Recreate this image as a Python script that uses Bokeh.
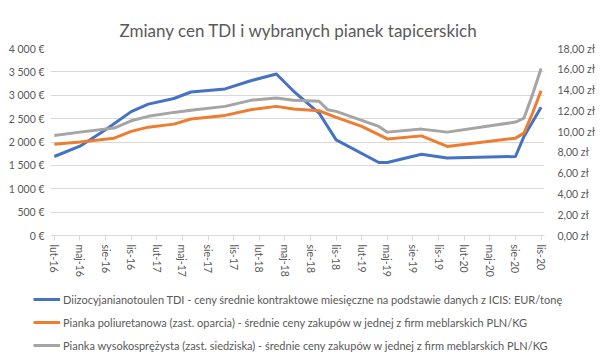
from bokeh.plotting import figure
from bokeh.layouts import column
from bokeh.models import Range1d, LinearAxis, FixedTicker, Legend, LegendItem
from bokeh.embed import file_html
from bokeh.resources import INLINE

# month index: 0 = luty 2016
months_tdi = [0, 3, 6, 9, 11, 14, 16, 20, 23, 26, 28, 31, 33, 38, 39, 43, 46, 54, 55, 57]
tdi_eur = [1690, 1910, 2260, 2650, 2810, 2930, 3070, 3135, 3310, 3455, 3090, 2620, 2046,
           1561, 1561, 1739, 1660, 1690, 2119, 2742]

months_pu = [0, 3, 7, 9, 11, 14, 16, 20, 23, 26, 28, 31, 33, 36, 39, 43, 46, 54, 55, 56, 57]
pu_pln = [8.79, 9.00, 9.37, 10.02, 10.43, 10.72, 11.21, 11.56, 12.11, 12.43, 12.17, 12.01,
          11.37, 10.50, 9.30, 9.59, 8.57, 9.37, 9.85, 11.79, 13.94]

months_hr = [0, 3, 7, 9, 11, 14, 16, 20, 23, 26, 28, 31, 32, 33, 38, 39, 43, 46, 54, 55, 56, 57]
hr_pln = [9.63, 9.95, 10.34, 11.04, 11.47, 11.85, 12.05, 12.43, 13.01, 13.24, 13.01, 12.92,
          12.11, 11.95, 10.50, 9.95, 10.24, 9.95, 10.92, 11.30, 13.56, 16.07]

x_ticks = list(range(0, 58, 3))
x_labels = ["lut-16", "maj-16", "sie-16", "lis-16", "lut-17", "maj-17", "sie-17", "lis-17",
            "lut-18", "maj-18", "sie-18", "lis-18", "lut-19", "maj-19", "sie-19", "lis-19",
            "lut-20", "maj-20", "sie-20", "lis-20"]
eur_ticks = [0, 500, 1000, 1500, 2000, 2500, 3000, 3500, 4000]
eur_labels = ["0 €", "500 €", "1 000 €", "1 500 €", "2 000 €", "2 500 €", "3 000 €", "3 500 €", "4 000 €"]
pln_ticks = [0, 2, 4, 6, 8, 10, 12, 14, 16, 18]
pln_labels = ["0,00 zł", "2,00 zł", "4,00 zł", "6,00 zł", "8,00 zł", "10,00 zł", "12,00 zł",
              "14,00 zł", "16,00 zł", "18,00 zł"]

title = "Zmiany cen TDI i wybranych pianek tapicerskich"
names = [
    "Diizocyjanianotoulen TDI - ceny średnie kontraktowe miesięczne na podstawie danych z ICIS: EUR/tonę",
    "Pianka poliuretanowa (zast. oparcia) - średnie ceny zakupów w jednej z firm meblarskich PLN/KG",
    "Pianka wysokosprężysta (zast. siedziska) - średnie ceny zakupów w jednej z firm meblarskich PLN/KG",
]
colors = ["#4472C4", "#ED7D31", "#A5A5A5"]

FONT = "Lato"
TXT = "#595959"
GRID = "#D9D9D9"

p = figure(width=601, height=280, output_backend="svg", toolbar_location=None,
           x_range=Range1d(-0.45, 57.4), y_range=Range1d(0, 4000),
           min_border_left=50, min_border_right=57, min_border_top=48, min_border_bottom=45)
p.frame_align = False
p.outline_line_color = None
p.background_fill_color = "white"
p.border_fill_color = "white"

p.title.text = title
p.title.align = "left"
p.title.offset = 69
p.title.vertical_align = "middle"
p.title.text_font = FONT
p.title.text_font_size = "17px"
p.title.text_font_style = "normal"
p.title.text_color = TXT
p.title.standoff = 14

p.extra_y_ranges = {"pln": Range1d(0, 18)}

# x axis
xa = p.xaxis[0]
xa.ticker = FixedTicker(ticks=x_ticks)
xa.major_label_overrides = {t: l for t, l in zip(x_ticks, x_labels)}
xa.major_label_orientation = "vertical"
xa.axis_line_color = GRID
xa.major_tick_line_color = GRID
xa.major_tick_out = 5
xa.major_tick_in = 0
xa.minor_tick_line_color = None
xa.major_label_text_font = FONT
xa.major_label_text_font_size = "10.5px"
xa.major_label_text_color = TXT
xa.major_label_standoff = 4

# left axis
ya = p.yaxis[0]
ya.ticker = FixedTicker(ticks=eur_ticks)
ya.major_label_overrides = {t: l for t, l in zip(eur_ticks, eur_labels)}
ya.axis_line_color = None
ya.major_tick_line_color = None
ya.minor_tick_line_color = None
ya.major_label_text_font = FONT
ya.major_label_text_font_size = "10.5px"
ya.major_label_text_color = TXT
ya.major_label_standoff = 0

# right axis
ra = LinearAxis(y_range_name="pln", ticker=FixedTicker(ticks=pln_ticks))
ra.major_label_overrides = {t: l for t, l in zip(pln_ticks, pln_labels)}
ra.axis_line_color = None
ra.major_tick_line_color = None
ra.minor_tick_line_color = None
ra.major_label_text_font = FONT
ra.major_label_text_font_size = "10.5px"
ra.major_label_text_color = TXT
ra.major_label_standoff = 7
p.add_layout(ra, "right")

p.xgrid.grid_line_color = None
p.ygrid.ticker = FixedTicker(ticks=eur_ticks)
p.ygrid.grid_line_color = GRID

p.line(months_tdi, tdi_eur, line_color=colors[0], line_width=3, line_join="round")
p.line(months_pu, pu_pln, line_color=colors[1], line_width=3, line_join="round", y_range_name="pln")
p.line(months_hr, hr_pln, line_color=colors[2], line_width=3, line_join="round", y_range_name="pln")

# legend strip below the chart (its own lines fall outside its empty view)
p2 = figure(width=601, height=76, output_backend="svg", toolbar_location=None,
            x_range=Range1d(-2, -1), y_range=Range1d(-2, -1),
            x_axis_location=None, y_axis_location=None,
            min_border_left=0, min_border_right=0, min_border_top=0, min_border_bottom=0)
p2.frame_align = False
p2.outline_line_color = None
p2.xgrid.visible = False
p2.ygrid.visible = False
items = []
for name, col, xs, ys in zip(names, colors, [months_tdi, months_pu, months_hr], [tdi_eur, pu_pln, hr_pln]):
    r = p2.line(xs, ys, line_color=col, line_width=3)
    items.append(LegendItem(label=name, renderers=[r]))
legend = Legend(items=items, location=(33, 1), orientation="vertical",
                padding=0, margin=0, spacing=3,
                glyph_width=27, glyph_height=20, label_height=20, label_standoff=3,
                label_text_font=FONT, label_text_font_size="11px", label_text_color=TXT,
                border_line_color=None, background_fill_alpha=0)
p2.add_layout(legend, "center")

layout = column(p, p2, spacing=0)
open("out.html", "w").write(file_html(layout, INLINE))
